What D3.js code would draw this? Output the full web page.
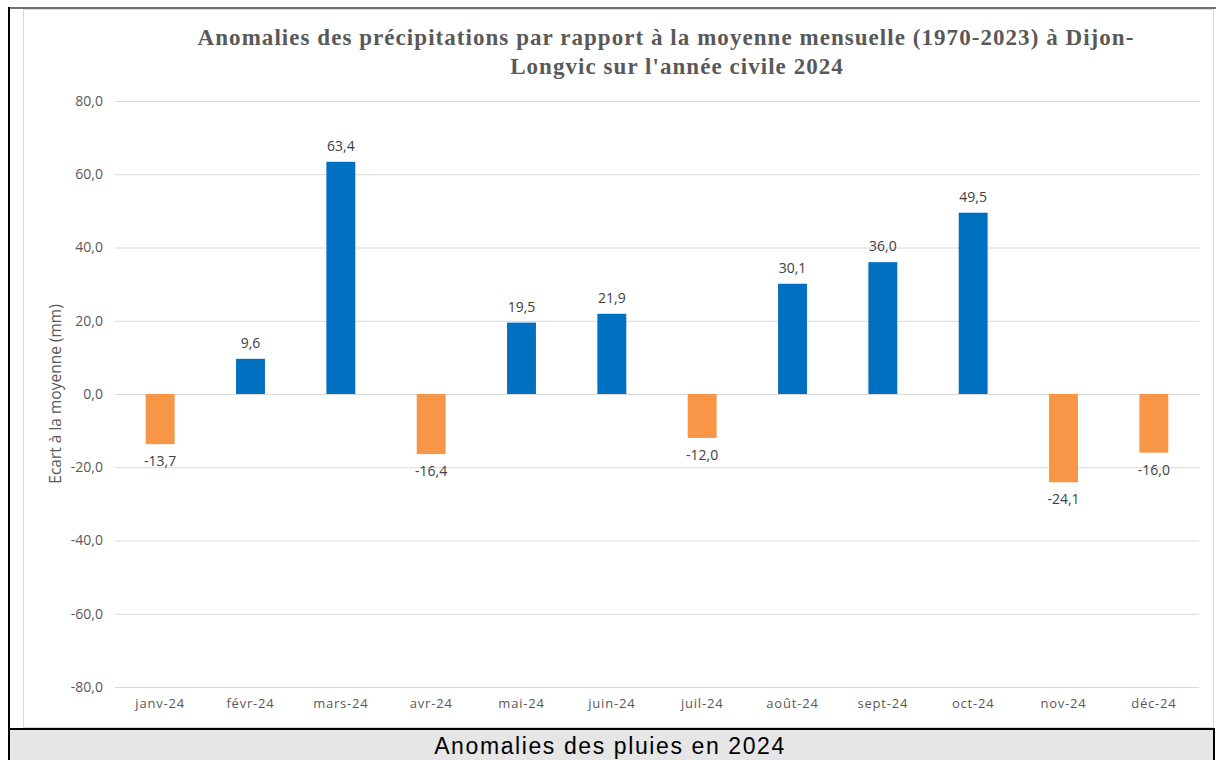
<!DOCTYPE html>
<html>
<head>
<meta charset="utf-8">
<title>Anomalies des pluies 2024</title>
<script src="https://d3js.org/d3.v7.min.js"></script>
<style>
  body { margin: 0; background: #fff; }
  svg { display: block; }
</style>
</head>
<body>
<script>
    // data
    var months = ["janv-24", "févr-24", "mars-24", "avr-24", "mai-24", "juin-24",
        "juil-24", "août-24", "sept-24", "oct-24", "nov-24", "déc-24"];
    var anomalies = [-13.7, 9.6, 63.4, -16.4, 19.5, 21.9, -12.0, 30.1, 36.0, 49.5, -24.1, -16.0];
    var yTicks = [-80, -60, -40, -20, 0, 20, 40, 60, 80];
    var titleLines = ["Anomalies des précipitations par rapport à la moyenne mensuelle (1970-2023) à Dijon-",
        "Longvic sur l'année civile 2024"];
    var yTitle = "Ecart à la moyenne (mm)";
    var caption = "Anomalies des pluies en 2024";

    var W = 1216, H = 760;
    var margin = { top: 101, right: 17, bottom: 73, left: 115 };
    var width = W - margin.left - margin.right,
        height = H - margin.top - margin.bottom;

    var fmt = function (v) { return d3.format(".1f")(v).replace(".", ",").replace("−", "-"); };

    var svg = d3.select("body").append("svg")
        .attr("width", W)
        .attr("height", H);

    // outer frame
    svg.append("rect")
        .attr("x", 23.5).attr("y", 9.5)
        .attr("width", 1190).attr("height", 718)
        .attr("fill", "#fff").attr("stroke", "#d9d9d9");
    svg.append("line")
        .attr("x1", 8).attr("x2", W).attr("y1", 8).attr("y2", 8)
        .attr("stroke", "#444").attr("stroke-width", 1.5);
    svg.append("line")
        .attr("x1", 9).attr("x2", 9).attr("y1", 7).attr("y2", H)
        .attr("stroke", "#000").attr("stroke-width", 2);

    // caption box
    svg.append("rect")
        .attr("x", 9).attr("y", 729)
        .attr("width", 1205).attr("height", 32)
        .attr("fill", "#e6e6e6").attr("stroke", "#000").attr("stroke-width", 2);
    svg.append("text")
        .attr("x", 610).attr("y", 754)
        .attr("text-anchor", "middle")
        .style("font-family", "'Liberation Sans', Arial, sans-serif")
        .style("font-size", "23px")
        .style("letter-spacing", "1.6px")
        .attr("fill", "#000")
        .text(caption);

    // title
    svg.append("text")
        .attr("text-anchor", "middle")
        .style("font-family", "'Liberation Serif', serif")
        .style("font-weight", "bold")
        .style("font-size", "23px")
        .style("letter-spacing", "1.05px")
        .attr("fill", "#595959")
        .selectAll("tspan")
        .data(titleLines)
        .enter().append("tspan")
        .attr("x", function (d, i) { return i === 0 ? 666 : 677; })
        .attr("y", function (d, i) { return 45 + i * 29; })
        .text(function (d) { return d; });

    var g = svg.append("g")
        .attr("transform", "translate(" + margin.left + "," + margin.top + ")");

    var x = d3.scaleBand().domain(months).range([0, width]).paddingInner(0.68).paddingOuter(0.34);
    var y = d3.scaleLinear().domain([-80, 80]).range([height, 0]);

    // grid
    g.append("g")
        .call(d3.axisLeft(y).tickValues(yTicks).tickSize(-width).tickPadding(12).tickFormat(fmt))
        .call(function (a) {
            a.select(".domain").remove();
            a.selectAll(".tick line").attr("stroke", "#d9d9d9");
            a.selectAll(".tick text")
                .attr("fill", "#595959")
                .style("font-family", "'Open Sans', sans-serif")
                .style("font-size", "14px");
        });

    // x axis labels
    g.append("g")
        .attr("transform", "translate(0," + height + ")")
        .call(d3.axisBottom(x).tickSize(0).tickPadding(12))
        .call(function (a) {
            a.select(".domain").remove();
            a.selectAll(".tick text")
                .attr("fill", "#595959")
                .style("font-family", "'Open Sans', sans-serif")
                .style("font-size", "13px")
                .style("letter-spacing", "0.8px");
        });

    // bars
    g.selectAll(".bar")
        .data(anomalies)
        .enter().append("rect")
        .attr("class", "bar")
        .attr("x", function (d, i) { return x(months[i]); })
        .attr("width", x.bandwidth())
        .attr("y", function (d) { return y(Math.max(0, d)); })
        .attr("height", function (d) { return Math.abs(y(d) - y(0)); })
        .attr("fill", function (d) { return d >= 0 ? "#0070c0" : "#f79646"; });

    // value labels
    g.selectAll(".lbl")
        .data(anomalies)
        .enter().append("text")
        .attr("class", "lbl")
        .attr("x", function (d, i) { return x(months[i]) + x.bandwidth() / 2; })
        .attr("y", function (d) { return d >= 0 ? y(d) - 11 : y(d) + 22; })
        .attr("text-anchor", "middle")
        .attr("fill", "#404040")
        .style("font-family", "'Open Sans', sans-serif")
        .style("font-size", "14px")
        .text(fmt);

    // y title
    svg.append("text")
        .attr("transform", "translate(61," + (margin.top + y(0)) + ") rotate(-90)")
        .attr("text-anchor", "middle")
        .attr("fill", "#595959")
        .style("font-family", "'Open Sans', sans-serif")
        .style("font-size", "15.5px")
        .text(yTitle);
</script>
</body>
</html>
